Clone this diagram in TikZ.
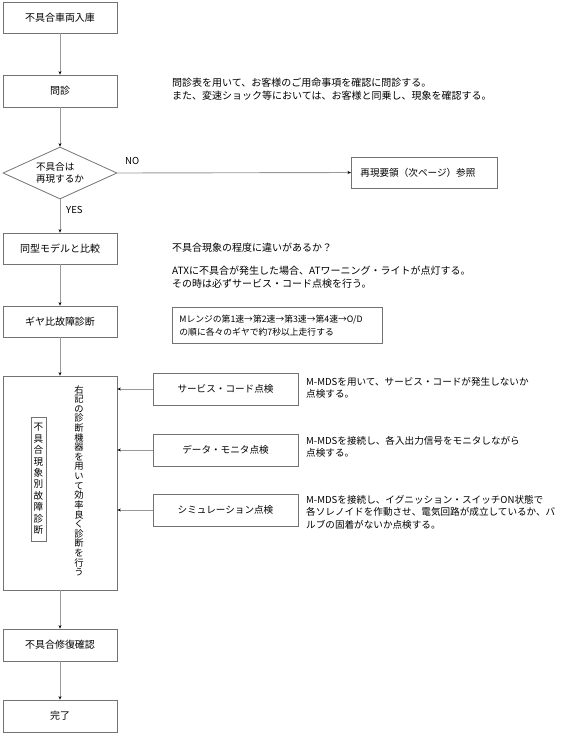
\documentclass[tikz,border=0pt]{standalone}
\usepackage{fontspec}
\setmainfont{Noto Sans CJK JP}
\usetikzlibrary{arrows.meta,shapes.geometric}
\newcommand{\fsn}{\fontsize{10}{13}\selectfont}
\newcommand{\fsm}{\fontsize{9.6}{12.6}\selectfont}
\begin{document}
\begin{tikzpicture}[x=1pt,y=-1pt,
  box/.style={draw=black!55, line width=0.8pt, minimum width=114pt, minimum height=31pt, inner sep=0pt, font=\fsn},
  sidebox/.style={draw=black!55, line width=0.8pt, minimum width=145pt, minimum height=32pt, inner sep=0pt, font=\fsm},
  conn/.style={draw=black!40, line width=0.9pt, -{Stealth[length=3.5pt,width=3pt,color=black]}},
  note/.style={anchor=north west, align=left, inner sep=0pt, font=\fsn},
  mnote/.style={anchor=north west, align=left, inner sep=0pt, font=\fsm},
  lbl/.style={anchor=west, inner sep=0pt, font=\fsm}]
\useasboundingbox (0,0) rectangle (571,734);
% main flow
\node[box] (b1) at (60,17.5) {不具合車両入庫};
\node[box, minimum height=32pt] (b2) at (60,91) {問診};
\node[draw=black!55, line width=0.8pt, shape=diamond, aspect=2.2, minimum width=114pt, minimum height=52pt, inner sep=0pt, align=left, font=\fsm] (d) at (60,173) {不具合は\\再現するか};
\node[draw=black!55, line width=0.8pt, minimum width=146pt, minimum height=31pt, inner xsep=9pt, inner ysep=0pt, anchor=west, font=\fsm, text width=128pt, align=left] (re) at (351,172.5) {再現要領（次ページ）参照};
\node[box] (b3) at (60,248.5) {同型モデルと比較};
\node[box] (b4) at (60,321.5) {ギヤ比故障診断};
\node[draw=black!55, line width=0.8pt, minimum width=114pt, minimum height=214pt, inner sep=0pt] (big) at (60,483) {};
\node[anchor=north, inner sep=0pt, align=center, font=\fontsize{9.3}{9.62}\selectfont] (vt) at (79,385)
  {右\\記\\の\\診\\断\\機\\器\\を\\用\\い\\て\\効\\率\\良\\く\\診\\断\\を\\行\\う};
\node[draw=black!55, line width=0.8pt, minimum width=15pt, minimum height=124pt, inner sep=1.5pt, align=center, font=\fontsize{9.6}{11.4}\selectfont] (ib) at (38.5,479)
  {不\\具\\合\\現\\象\\別\\故\\障\\診\\断};
\node[box, minimum height=32pt] (b5) at (60,645) {不具合修復確認};
\node[box, minimum height=32pt] (b6) at (60,716) {完了};
% side boxes
\node[sidebox] (s1) at (225.5,389) {サービス・コード点検};
\node[sidebox] (s2) at (225.5,450) {データ・モニタ点検};
\node[sidebox] (s3) at (225.5,510) {シミュレーション点検};
\node[draw=black!55, line width=0.8pt, anchor=north west, minimum width=210pt, minimum height=36pt, inner xsep=7pt, inner ysep=0pt, text width=196pt, align=left, font=\fontsize{8.8}{12.5}\selectfont] (mr) at (172,307)
  {Mレンジの第1速→第2速→第3速→第4速→O/D\\の順に各々のギヤで約7秒以上走行する};
% notes
\node[note] (n1) at (172,78) {問診表を用いて、お客様のご用命事項を確認に問診する。\\また、変速ショック等においては、お客様と同乗し、現象を確認する。};
\node[note] (n2) at (172,243) {不具合現象の程度に違いがあるか？};
\node[note] (n3) at (172,266) {ATXに不具合が発生した場合、ATワーニング・ライトが点灯する。\\その時は必ずサービス・コード点検を行う。};
\node[mnote] (n4) at (306,377) {M-MDSを用いて、サービス・コードが発生しないか\\点検する。};
\node[mnote] (n5) at (306,436) {M-MDSを接続し、各入出力信号をモニタしながら\\点検する。};
\node[mnote] (n6) at (306,495) {M-MDSを接続し、イグニッション・スイッチON状態で\\各ソレノイドを作動させ、電気回路が成立しているか、バ\\ルブの固着がないか点検する。};
% labels
\node[lbl] (no) at (125,161) {NO};
\node[lbl] (yes) at (66,210) {YES};
% connectors
\draw[conn] (b1.south) -- (b2.north);
\draw[conn] (b2.south) -- (d.north);
\draw[conn] (d.east) -- (re.west);
\draw[conn] (d.south) -- (b3.north);
\draw[conn] (b3.south) -- (b4.north);
\draw[conn] (b4.south) -- (big.north);
\draw[conn] (big.south) -- (b5.north);
\draw[conn] (b5.south) -- (b6.north);
\draw[conn] (s1.west) -- (s1.west -| big.east);
\draw[conn] (s2.west) -- (s2.west -| big.east);
\draw[conn] (s3.west) -- (s3.west -| big.east);
\end{tikzpicture}
\end{document}
